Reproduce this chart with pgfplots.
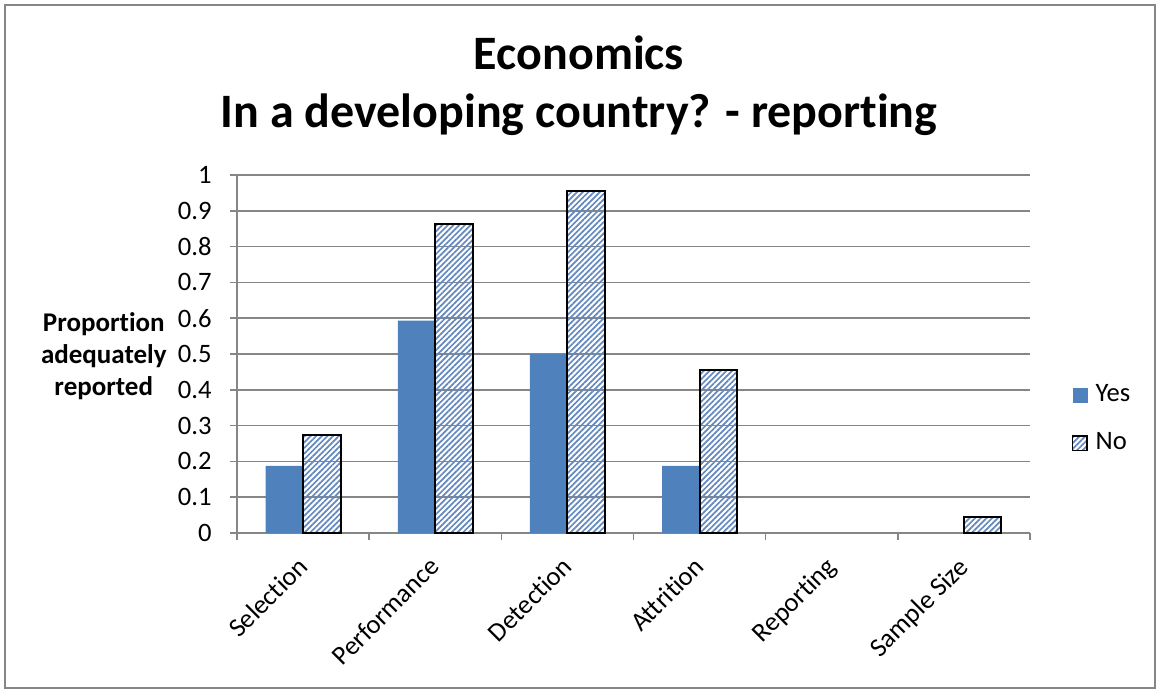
\documentclass[border=0pt]{standalone}
\usepackage{pgfplots}
\pgfplotsset{compat=1.18}
\usepackage{fontspec}
\setmainfont{Carlito}[Ligatures={NoCommon,NoContextual}]
\usetikzlibrary{patterns.meta}
\definecolor{yesblue}{RGB}{79,129,189}
\definecolor{hatchblue}{RGB}{70,115,180}
\definecolor{axgray}{RGB}{134,134,134}
\begin{document}
\begin{tikzpicture}[x=1pt,y=1pt]
\path[use as bounding box] (0,0) rectangle (578.5,-345);
\draw[axgray, line width=1pt] (2.5,-2.5) rectangle (577.5,-344);
\node[anchor=base, font=\fontsize{24pt}{28pt}\selectfont\bfseries] at (289.5,-35) {Economics};
\node[anchor=base, font=\fontsize{24pt}{28pt}\selectfont\bfseries] at (289.5,-63.5) {In a developing country? - repor\kern0pt ting};
\begin{axis}[
  at={(118.5pt,-266.5pt)}, anchor=south west,
  scale only axis, width=396.5pt, height=179pt,
  xmin=-0.5, xmax=5.5, ymin=0, ymax=1,
  axis x line*=bottom, axis y line*=left,
  axis line style={draw=axgray, line width=0.8pt},
  ymajorgrids, grid style={draw=axgray, line width=0.8pt},
  tick align=outside, major tick length=3.5pt,
  tick style={draw=axgray, line width=0.8pt},
  ytick={0,0.1,...,1.01},
  yticklabels={0,0.1,0.2,0.3,0.4,0.5,0.6,0.7,0.8,0.9,1},
  yticklabel style={anchor=east, inner sep=0pt, xshift=-9pt},
  xtick={-0.5,0.5,...,5.6}, xticklabels={},
  extra x ticks={0,1,2,3,4,5},
  extra x tick labels={Selec\kern0pt tion,Performance,Detec\kern0pt tion,At\kern0pt tri\kern0pt tion,Repor\kern0pt ting,Sample Size},
  extra x tick style={major tick length=0pt, xticklabel style={yshift=-11pt, xshift=-3.5pt, rotate=45, anchor=north east, inner sep=0pt}},
  ticklabel style={font=\fontsize{13.3pt}{15pt}\selectfont},
  /pgf/number format/assume math mode=true,
  ylabel={Propor\kern0pt tion\\adequately\\reported},
  ylabel style={rotate=-90, align=center, anchor=center, font=\fontsize{13.5pt}{16pt}\selectfont\bfseries, at={(axis description cs:-0.168,0.494)}},
  ybar, bar width=18.75pt,
  legend cell align=left,
  legend style={at={(axis description cs:1.053,0.318)}, anchor=west, draw=none, fill=none, inner sep=0pt, outer sep=0pt, row sep=12pt, column sep=4pt, nodes={inner sep=0pt, text height=9pt, text depth=3pt, font=\fontsize{13.3pt}{15pt}\selectfont}},
]
\addplot[fill=yesblue, draw=none, bar shift=-9.375pt,
  legend image code/.code={\fill[yesblue] (0pt,-3.75pt) rectangle (7.5pt,3.75pt);}]
  coordinates {(0,0.1875) (1,0.593) (2,0.5) (3,0.1875)};
\addlegendentry{Yes}
\addplot[draw=black, line width=1pt, pattern={Lines[angle=45, distance=2pt, line width=0.85pt]}, pattern color=hatchblue!85, bar shift=9.375pt,
  legend image code/.code={\draw[black, line width=0.6pt, pattern={Lines[angle=45, distance=2pt, line width=0.85pt]}, pattern color=hatchblue!85] (0pt,-3.6pt) rectangle (7.2pt,3.6pt);}]
  coordinates {(0,0.2727) (1,0.8636) (2,0.9545) (3,0.4545) (5,0.0455)};
\addlegendentry{No}
\end{axis}
\end{tikzpicture}
\end{document}
